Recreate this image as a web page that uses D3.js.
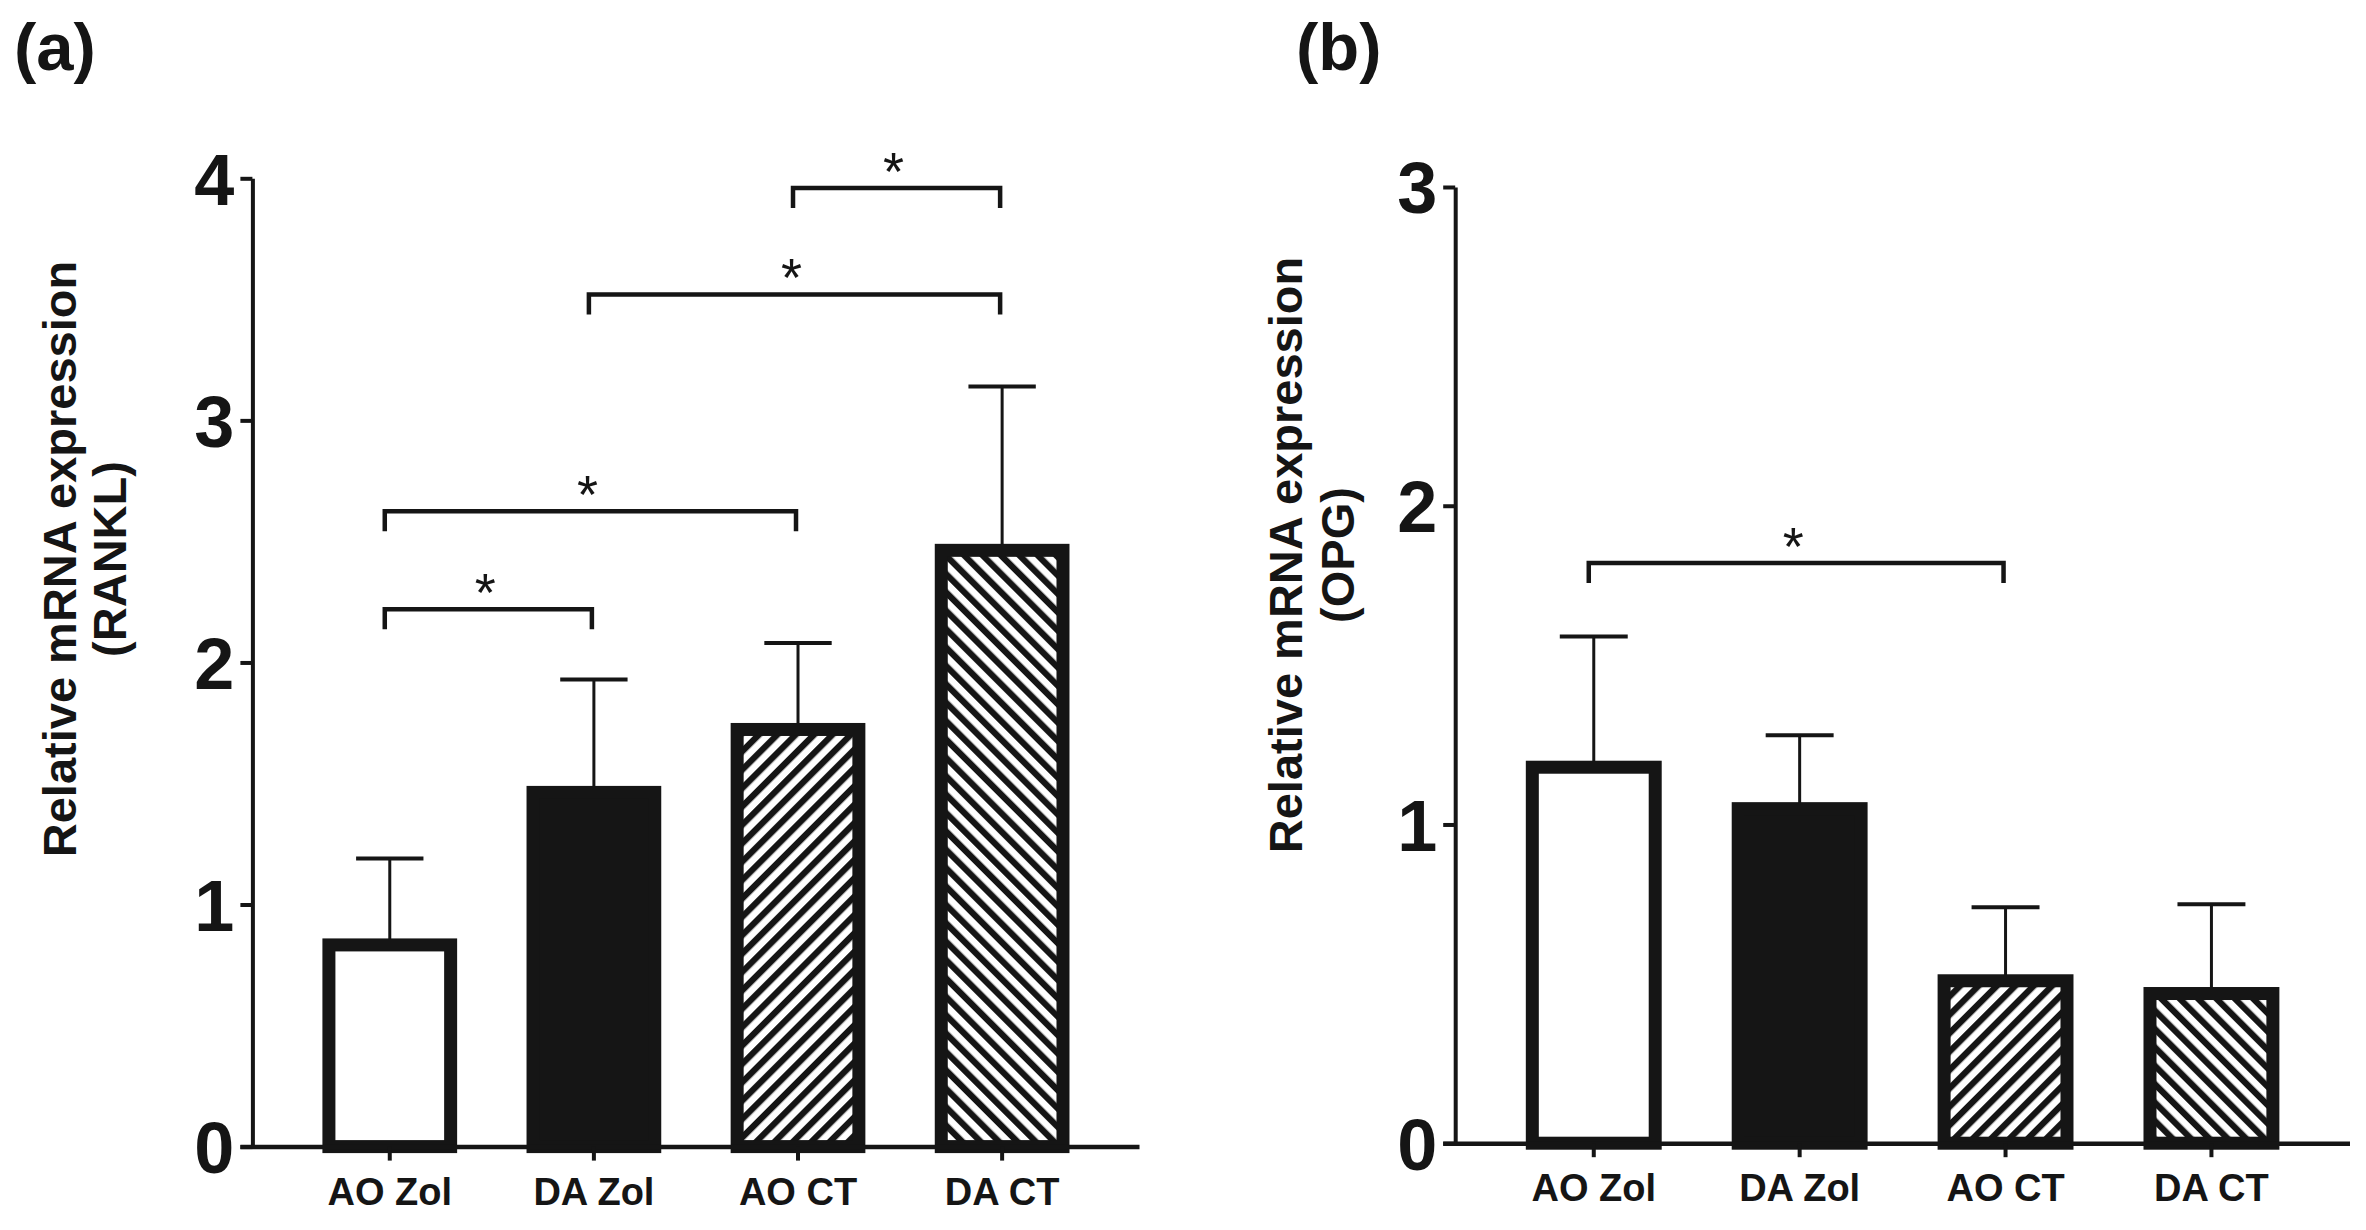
<!DOCTYPE html>
<html>
<head>
<meta charset="utf-8">
<script src="https://cdn.jsdelivr.net/npm/d3@7"></script>
<style>
  html, body { margin: 0; padding: 0; background: #ffffff; }
  svg { display: block; }
</style>
</head>
<body>
<script>
// ---------------- DATA ----------------
const categories = ["AO Zol", "DA Zol", "AO CT", "DA CT"];

// Panel (a): RANKL
const rankMean = [0.86, 1.49, 1.75, 2.49];
const rankErr  = [0.33, 0.44, 0.33, 0.65];
const rankTicks = [0, 1, 2, 3, 4];
// significance: [fromIndex, toIndex, yLevel]
const rankSig = [[0, 1, 2.22], [0, 2, 2.625], [1, 3, 3.52], [2, 3, 3.96]];
const rankTitle = ["Relative mRNA expression", "(RANKL)"];

// Panel (b): OPG
const opgMean = [1.20, 1.07, 0.53, 0.49];
const opgErr  = [0.39, 0.21, 0.21, 0.26];
const opgTicks = [0, 1, 2, 3];
const opgSig = [[0, 2, 1.82]];
const opgTitle = ["Relative mRNA expression", "(OPG)"];

const panelLabels = ["(a)", "(b)"];
const sigMark = "*";

// ---------------- STYLE ----------------
const W = 2366, H = 1230;
const INK = "#151515";
const FONT = "'Liberation Sans', Arial, Helvetica, sans-serif";
const barFills = ["#ffffff", INK, "url(#hatchUp)", "url(#hatchDown)"];
const BAR_SW = 13;

const svg = d3.select("body").append("svg")
  .attr("width", W).attr("height", H)
  .attr("viewBox", `0 0 ${W} ${H}`);

svg.append("rect").attr("width", W).attr("height", H).attr("fill", "#ffffff");

const defs = svg.append("defs");
function hatch(id, angle) {
  const p = defs.append("pattern")
    .attr("id", id)
    .attr("patternUnits", "userSpaceOnUse")
    .attr("width", 13).attr("height", 13)
    .attr("patternTransform", `rotate(${angle})`);
  p.append("rect").attr("width", 13).attr("height", 13).attr("fill", "#ffffff");
  p.append("rect").attr("x", 0).attr("y", 0).attr("width", 6.3).attr("height", 13).attr("fill", INK);
}
hatch("hatchUp", 45);
hatch("hatchDown", -45);

function drawPanel(cfg) {
  const g = svg.append("g");
  const x = d3.scaleBand().domain(categories)
    .range([cfg.x0, cfg.x1]).paddingInner(0.34).paddingOuter(0.343);
  const y = d3.scaleLinear().domain([0, d3.max(cfg.ticks)])
    .range([cfg.yBottom, cfg.yTop]);
  const bw = x.bandwidth();

  const data = categories.map((c, i) => ({ c, i, m: cfg.mean[i], e: cfg.err[i] }));

  // error bars (behind bars)
  const eb = g.append("g");
  eb.selectAll("line.v").data(data).join("line")
    .attr("x1", d => x(d.c) + bw / 2).attr("x2", d => x(d.c) + bw / 2)
    .attr("y1", d => y(d.m) + 4).attr("y2", d => y(d.m + d.e))
    .attr("stroke", INK).attr("stroke-width", 3);
  eb.selectAll("line.cap").data(data).join("line")
    .attr("x1", d => x(d.c) + bw / 2 - bw / 4).attr("x2", d => x(d.c) + bw / 2 + bw / 4)
    .attr("y1", d => y(d.m + d.e)).attr("y2", d => y(d.m + d.e))
    .attr("stroke", INK).attr("stroke-width", 4);

  // bars
  g.append("g").selectAll("rect").data(data).join("rect")
    .attr("x", d => x(d.c) + BAR_SW / 2)
    .attr("width", bw - BAR_SW)
    .attr("y", d => y(d.m) + BAR_SW / 2)
    .attr("height", d => y(0) - y(d.m) - BAR_SW / 2)
    .attr("fill", (d, i) => barFills[i])
    .attr("stroke", INK).attr("stroke-width", BAR_SW)
    .attr("stroke-linejoin", "miter");

  // y axis
  const ya = g.append("g").attr("transform", `translate(${cfg.x0},0)`)
    .call(d3.axisLeft(y).tickValues(cfg.ticks).tickFormat(d3.format("d"))
      .tickSize(12).tickSizeOuter(0).tickPadding(6));
  ya.select(".domain").attr("stroke", INK).attr("stroke-width", 4);
  ya.selectAll(".tick line").attr("stroke", INK).attr("stroke-width", 4);
  ya.selectAll(".tick text")
    .attr("font-family", FONT).attr("font-weight", "bold")
    .attr("font-size", 72).attr("fill", INK).attr("dy", "0.36em");

  // x axis
  const xa = g.append("g").attr("transform", `translate(0,${cfg.yBottom})`)
    .call(d3.axisBottom(x).tickSize(14).tickSizeOuter(0).tickPadding(17));
  xa.select(".domain").attr("stroke", INK).attr("stroke-width", 4.5)
    .attr("d", `M${cfg.x0 - 12},0.5H${cfg.x1}`);
  xa.selectAll(".tick line").attr("stroke", INK).attr("stroke-width", 4);
  xa.selectAll(".tick text")
    .attr("font-family", FONT).attr("font-weight", "bold")
    .attr("font-size", 38).attr("fill", INK);

  // significance brackets
  const sg = g.append("g");
  cfg.sig.forEach(([a, b, lvl]) => {
    const xa_ = x(categories[a]) + bw / 2 - 5;
    const xb_ = x(categories[b]) + bw / 2 - 2;
    const yy = y(lvl);
    sg.append("path")
      .attr("d", `M${xa_},${yy + 20}V${yy}H${xb_}V${yy + 20}`)
      .attr("fill", "none").attr("stroke", INK).attr("stroke-width", 4.5)
      .attr("stroke-linejoin", "miter");
    sg.append("text")
      .attr("x", (xa_ + xb_) / 2 - 3).attr("y", yy + 2)
      .attr("text-anchor", "middle")
      .attr("font-family", FONT).attr("font-size", 54)
      .attr("fill", INK).text(sigMark);
  });

  // y title
  cfg.title.forEach((t, k) => {
    g.append("text")
      .attr("transform", `translate(${cfg.titleX[k]},${cfg.titleY}) rotate(-90)`)
      .attr("text-anchor", "middle")
      .attr("font-family", FONT).attr("font-weight", "bold")
      .attr("font-size", 47).attr("fill", INK)
      .text(t);
  });

  // panel label
  g.append("text")
    .attr("x", cfg.labelX).attr("y", 70)
    .attr("font-family", FONT).attr("font-weight", "bold")
    .attr("font-size", 67).attr("fill", INK)
    .text(cfg.label);
}

drawPanel({
  mean: rankMean, err: rankErr, ticks: rankTicks, sig: rankSig, title: rankTitle,
  label: panelLabels[0], labelX: 14,
  x0: 252.4, x1: 1139.5, yBottom: 1146.6, yTop: 178.3,
  titleX: [76, 126], titleY: 559
});

drawPanel({
  mean: opgMean, err: opgErr, ticks: opgTicks, sig: opgSig, title: opgTitle,
  label: panelLabels[1], labelX: 1296,
  x0: 1455.2, x1: 2350, yBottom: 1143.2, yTop: 187,
  titleX: [1302, 1354], titleY: 555
});
</script>
</body>
</html>
